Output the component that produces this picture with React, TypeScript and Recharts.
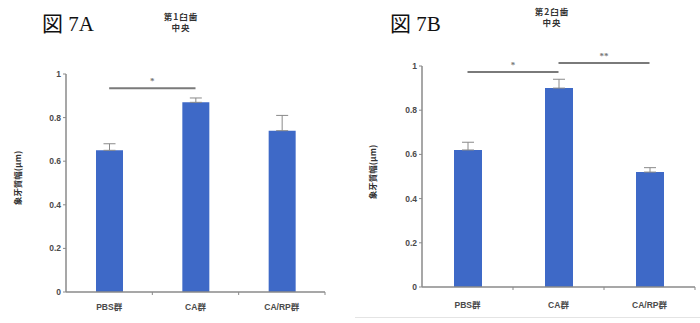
import React from 'react';
import {
  BarChart,
  Bar,
  XAxis,
  YAxis,
  ErrorBar,
  ReferenceLine,
} from 'recharts';

// 群名
const groups = ['PBS群', 'CA群', 'CA/RP群'];

// 第1臼歯 中央 (図 7A)
const meansA = [0.65, 0.87, 0.74];
const sdA = [0.03, 0.02, 0.07];

// 第2臼歯 中央 (図 7B)
const meansB = [0.62, 0.9, 0.52];
const sdB = [0.035, 0.04, 0.02];

const yTicks = [0, 0.2, 0.4, 0.6, 0.8, 1];
const yLabel = '象牙質幅(μm)';

const BAR_COLOR = '#3e69c7';
const AXIS_COLOR = '#8a8a8a';
const TEXT_COLOR = '#4a4a4a';

const buildRows = (means: number[], sd: number[]) =>
  groups.map((name, i) => ({ name, value: means[i], err: [0, sd[i]] }));

const tickStyle = {
  fontSize: 8.5,
  fontWeight: 700,
  fill: TEXT_COLOR,
  fontFamily: 'Arial, "Liberation Sans", "Noto Sans CJK JP"',
};

// group label plus a short mark at the right edge of each band
function GroupTick(props: any) {
  const { x, y, payload, labelGap } = props;
  const half = payload?.offset || 0;
  return (
    <g>
      <text x={x} y={y + labelGap} textAnchor="middle" {...tickStyle}>
        {payload.value}
      </text>
      {half > 0 && (
        <line x1={x + half} x2={x + half} y1={y} y2={y + 3} stroke={AXIS_COLOR} strokeWidth={1} />
      )}
    </g>
  );
}

interface SigLine {
  from: string;
  to: string;
  y: number;
  mark: string;
}

interface PanelProps {
  means: number[];
  sd: number[];
  axisWidth: number;
  top: number;
  bottom: number;
  right: number;
  barSize: number;
  labelGap: number;
  sig: SigLine[];
}

function Panel({ means, sd, axisWidth, top, bottom, right, barSize, labelGap, sig }: PanelProps) {
  const rows = buildRows(means, sd);
  return (
    <BarChart
      width={350}
      height={323}
      data={rows}
      margin={{ top, right, bottom: 0, left: 0 }}
      barCategoryGap={0}
    >
      <XAxis
        dataKey="name"
        height={bottom}
        axisLine={{ stroke: AXIS_COLOR, strokeWidth: 1.5 }}
        tickLine={false}
        tickSize={0}
        tickMargin={0}
        tick={<GroupTick labelGap={labelGap} />}
        interval={0}
      />
      <YAxis
        domain={[0, 1]}
        ticks={yTicks}
        width={axisWidth}
        axisLine={{ stroke: AXIS_COLOR, strokeWidth: 1.5 }}
        tickLine={{ stroke: AXIS_COLOR }}
        tickSize={3}
        tick={tickStyle}
        tickFormatter={(v: number) => String(v)}
        allowDataOverflow
      />
      <Bar dataKey="value" fill={BAR_COLOR} barSize={barSize} isAnimationActive={false}>
        <ErrorBar dataKey="err" width={6} stroke={AXIS_COLOR} strokeWidth={1} direction="y" />
      </Bar>
      {sig.map((s, i) => (
        <ReferenceLine
          key={i}
          segment={[
            { x: s.from, y: s.y },
            { x: s.to, y: s.y },
          ]}
          stroke="#7a7a7a"
          strokeWidth={2}
          ifOverflow="visible"
          label={{
            value: s.mark,
            position: 'top',
            offset: 4,
            fontSize: 9,
            fontWeight: 700,
            fill: '#777',
          }}
        />
      ))}
    </BarChart>
  );
}

const figLabel: React.CSSProperties = {
  position: 'absolute',
  fontFamily: '"Liberation Serif", "DejaVu Serif", "Noto Sans CJK JP", serif',
  fontSize: 21,
  color: '#111',
  lineHeight: 1,
};

const titleStyle: React.CSSProperties = {
  position: 'absolute',
  width: 80,
  textAlign: 'center',
  fontFamily: '"Noto Sans CJK JP", sans-serif',
  fontSize: 8.5,
  fontWeight: 700,
  color: '#333',
  lineHeight: '11px',
  letterSpacing: 1,
};

const yLabelStyle: React.CSSProperties = {
  position: 'absolute',
  width: 80,
  textAlign: 'center',
  fontFamily: '"Noto Sans CJK JP", sans-serif',
  fontSize: 8.5,
  fontWeight: 700,
  color: '#333',
  transform: 'rotate(-90deg)',
  transformOrigin: 'center',
};

export default function App() {
  return (
    <div
      style={{
        position: 'absolute',
        left: 0,
        top: 0,
        width: 700,
        height: 323,
        background: '#fff',
        overflow: 'hidden',
      }}
    >
      <div style={{ position: 'absolute', left: 0, top: 0 }}>
        <Panel
          means={meansA}
          sd={sdA}
          axisWidth={66}
          top={74}
          bottom={31}
          right={25}
          barSize={27}
          labelGap={18}
          sig={[{ from: 'PBS群', to: 'CA群', y: 0.935, mark: '*' }]}
        />
      </div>
      <div style={{ position: 'absolute', left: 350, top: 0 }}>
        <Panel
          means={meansB}
          sd={sdB}
          axisWidth={72}
          top={66}
          bottom={36}
          right={5}
          barSize={28}
          labelGap={21}
          sig={[
            { from: 'PBS群', to: 'CA群', y: 0.973, mark: '*' },
            { from: 'CA群', to: 'CA/RP群', y: 1.014, mark: '**' },
          ]}
        />
      </div>

      <div style={{ ...figLabel, left: 42, top: 14 }}>図 7A</div>
      <div style={{ ...figLabel, left: 390, top: 14 }}>図 7B</div>

      <div style={{ ...titleStyle, left: 141, top: 11 }}>
        第1臼歯
        <br />
        中央
      </div>
      <div style={{ ...titleStyle, left: 512, top: 6 }}>
        第2臼歯
        <br />
        中央
      </div>

      <div style={{ ...yLabelStyle, left: -23, top: 172 }}>{yLabel}</div>
      <div style={{ ...yLabelStyle, left: 332, top: 166 }}>{yLabel}</div>

      <div
        style={{
          position: 'absolute',
          left: 355,
          top: 317,
          width: 345,
          height: 1,
          background: '#e4e4e4',
        }}
      />
    </div>
  );
}
